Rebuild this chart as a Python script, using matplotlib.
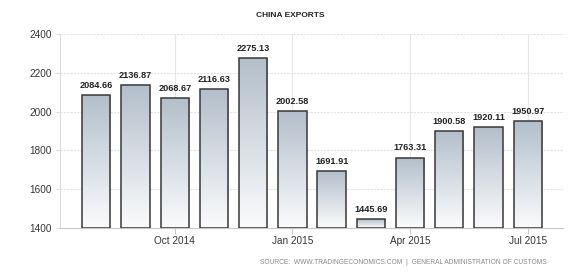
import numpy as np
import matplotlib.pyplot as plt
from matplotlib.colors import LinearSegmentedColormap

months = ["Aug 2014", "Sep 2014", "Oct 2014", "Nov 2014", "Dec 2014", "Jan 2015",
          "Feb 2015", "Mar 2015", "Apr 2015", "May 2015", "Jun 2015", "Jul 2015"]
exports = [2084.66, 2136.87, 2068.67, 2116.63, 2275.13, 2002.58,
           1691.91, 1445.69, 1763.31, 1900.58, 1920.11, 1950.97]
tick_labels = ["Oct 2014", "Jan 2015", "Apr 2015", "Jul 2015"]
yticks = [1400, 1600, 1800, 2000, 2200, 2400]

plt.rcParams['font.family'] = ['Liberation Sans', 'DejaVu Sans']

fig = plt.figure(figsize=(5.81, 2.75), dpi=100)
ax = fig.add_axes([0.103, 0.171, 0.866, 0.705])

x = np.arange(len(exports))
width = 0.72
base = 1400
grad = LinearSegmentedColormap.from_list("g", ["#fbfbfc", "#b3bfcb"])
bars = ax.bar(x, np.array(exports) - base, width, bottom=base,
              facecolor="none", edgecolor="#383838", linewidth=1.1, zorder=3)
for b, v in zip(bars, exports):
    img = ax.imshow(np.linspace(0, 1, 100).reshape(-1, 1), cmap=grad, aspect="auto",
                    origin="lower", extent=(b.get_x(), b.get_x() + b.get_width(), base, v),
                    zorder=2)
    img.set_clip_path(b)
    ax.annotate(f"{v:.2f}", (b.get_x() + b.get_width() / 2, v), xytext=(0, 7),
                textcoords="offset points", ha="center", va="center",
                fontsize=6.6, color="#222222", fontweight="bold")

ax.set_xlim(-0.93, 11.9)
ax.set_ylim(1400, 2400)
ax.set_yticks(yticks)
ax.set_yticklabels([str(t) for t in yticks], fontsize=7.2, color="#333333")
ax.set_xticks([months.index(t) for t in tick_labels])
ax.set_xticklabels(tick_labels, fontsize=7.2, color="#333333")
ax.tick_params(axis="y", length=3, color="#dddddd", pad=3)
ax.tick_params(axis="x", length=4, color="#c8c8c8", pad=2)
ax.grid(True, axis="y", color="#e2e2e2", linestyle=(0, (2, 1)), linewidth=0.8, zorder=0)
ax.grid(True, axis="x", color="#e6e6e6", linestyle="-", linewidth=0.8, zorder=0)
for s in ["top", "right"]:
    ax.spines[s].set_visible(False)
ax.spines["left"].set_color("#dddddd")
ax.spines["bottom"].set_color("#c8c8c8")
ax.set_axisbelow(True)

fig.text(0.5, 0.945, "CHINA EXPORTS", ha="center", va="center", fontsize=6,
         fontweight="bold", color="#222222")
fig.text(0.941, 0.044, "SOURCE:  WWW.TRADINGECONOMICS.COM  |  GENERAL ADMINISTRATION OF CUSTOMS",
         ha="right", va="center", fontsize=4.75, color="#888888")

fig.savefig("out.png", dpi=100)
